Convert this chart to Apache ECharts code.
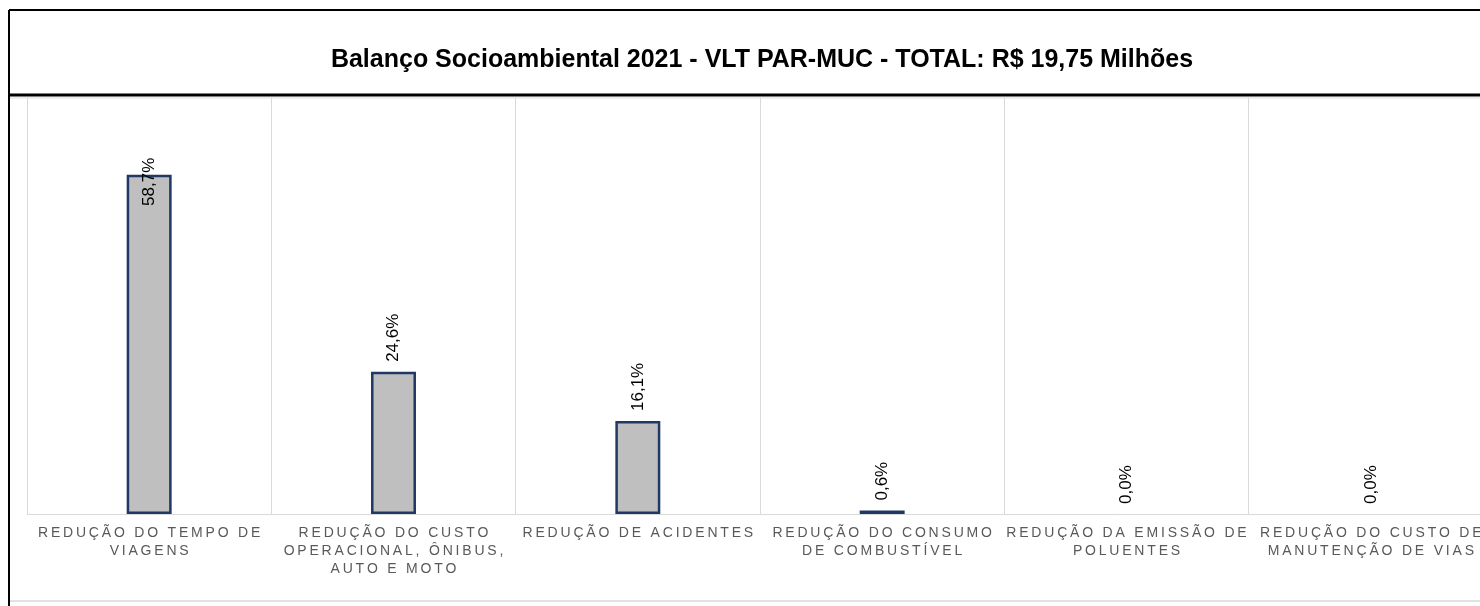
<!DOCTYPE html>
<html>
<head>
<meta charset="utf-8">
<script src="https://cdn.jsdelivr.net/npm/echarts@6/dist/echarts.min.js"></script>
<style>
* { margin: 0; padding: 0; }
body { background: #fff; }
#main { width: 1480px; height: 606px; }
</style>
</head>
<body>
<div id="main"></div>
<script>
// dados do gráfico
var titulo = 'Balanço Socioambiental 2021 - VLT PAR-MUC - TOTAL: R$ 19,75 Milhões';
var categorias = [
  'REDUÇÃO DO TEMPO DE\nVIAGENS',
  'REDUÇÃO DO CUSTO\nOPERACIONAL, ÔNIBUS,\nAUTO E MOTO',
  'REDUÇÃO DE ACIDENTES',
  'REDUÇÃO DO CONSUMO\nDE COMBUSTÍVEL',
  'REDUÇÃO DA EMISSÃO DE\nPOLUENTES',
  'REDUÇÃO DO CUSTO DE\nMANUTENÇÃO DE VIAS'
];
var percentuais = [58.7, 24.6, 16.1, 0.6, 0.0, 0.0];

var chartDom = document.getElementById('main');
var myChart = echarts.init(chartDom);

// espaçamento entre letras (estilo Excel)
function espacar(txt) {
  return txt.split('\n').map(function (linha) {
    return linha.split('').join('\u2009');
  }).join('\n');
}

var dados = percentuais.map(function (v, i) {
  var item = { value: v };
  if (v === 0) {
    item.itemStyle = { borderWidth: 0 };
  }
  if (i === 0) {
    // rótulo empurrado para dentro da barra, como no original
    item.label = { position: 'insideTop', distance: 7, align: 'center', verticalAlign: 'middle' };
  }
  return item;
});

var option = {
  animation: false,
  backgroundColor: '#fff',
  title: {
    text: titulo,
    left: 757,
    top: 43,
    textAlign: 'center',
    textStyle: {
      fontFamily: '"Liberation Sans", Arial, sans-serif',
      fontWeight: 'bold',
      fontSize: 25,
      color: '#000'
    }
  },
  grid: {
    left: 27,
    top: 98,
    width: 1466,
    height: 416,
    outerBoundsMode: 'none',
    containLabel: false
  },
  xAxis: {
    type: 'category',
    data: categorias,
    axisLine: { lineStyle: { color: '#D9D9D9', width: 1 } },
    axisTick: { show: false },
    splitLine: { show: true, lineStyle: { color: '#D9D9D9', width: 1 } },
    axisLabel: {
      interval: 0,
      hideOverlap: false,
      margin: 10,
      color: '#595959',
      fontSize: 14,
      lineHeight: 18,
      fontFamily: '"Liberation Sans", Arial, sans-serif',
      formatter: function (v) { return espacar(v); }
    }
  },
  yAxis: {
    type: 'value',
    min: 0,
    max: 72,
    show: false,
    splitLine: { show: false }
  },
  series: [{
    type: 'bar',
    data: dados,
    barWidth: '18.4%',
    itemStyle: {
      color: '#BFBFBF',
      borderColor: '#203864',
      borderWidth: 2.5
    },
    label: {
      show: true,
      position: 'top',
      distance: 10,
      rotate: 90,
      align: 'left',
      verticalAlign: 'middle',
      color: '#000',
      fontSize: 17,
      fontFamily: '"Liberation Sans", Arial, sans-serif',
      formatter: function (p) {
        return p.value.toFixed(1).replace('.', ',') + '%';
      }
    }
  }],
  graphic: [
    // moldura preta e faixa do título
    { type: 'line', shape: { x1: 9, y1: 10, x2: 1480, y2: 10 }, style: { stroke: '#000', lineWidth: 2 } },
    { type: 'line', shape: { x1: 9, y1: 10, x2: 9, y2: 606 }, style: { stroke: '#000', lineWidth: 2 } },
    { type: 'line', shape: { x1: 9, y1: 95, x2: 1480, y2: 95 }, style: { stroke: '#000', lineWidth: 3 } },
    { type: 'line', shape: { x1: 10, y1: 98, x2: 1480, y2: 98 }, style: { stroke: '#D9D9D9', lineWidth: 1 } },
    { type: 'line', shape: { x1: 10, y1: 601, x2: 1480, y2: 601 }, style: { stroke: '#D9D9D9', lineWidth: 1.5 } }
  ]
};

myChart.setOption(option);
</script>
</body>
</html>
